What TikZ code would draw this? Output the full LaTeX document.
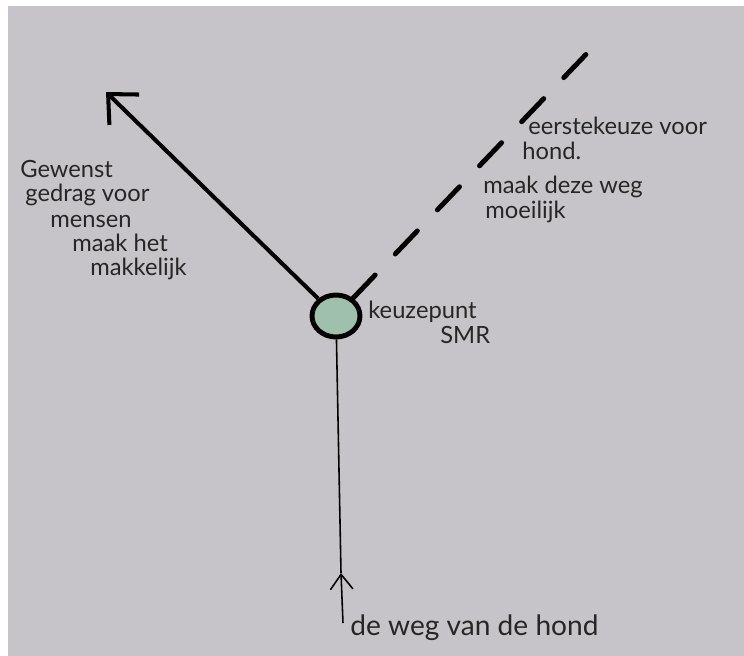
\documentclass[tikz,border=0pt]{standalone}
\usepackage{fontspec}
\setmainfont{Lato}
\usetikzlibrary{positioning,arrows.meta,shapes.geometric}
\definecolor{paper}{RGB}{198,196,200}
\definecolor{keuzegroen}{RGB}{158,192,172}

\begin{document}
\begin{tikzpicture}[
    x=0.02cm, y=-0.02cm,
    hand/.style={%
      font=\fontsize{13.5}{16}\selectfont,
      text=black!85,
      inner sep=0pt,
      anchor=base west,
    },
    punt/.style={%
      draw,
      ellipse,
      line width=2.8pt,
      fill=keuzegroen,
      minimum width=0.96cm,
      minimum height=0.84cm,
      inner sep=0pt,
    },
  ]

    \useasboundingbox (0,0) rectangle (744,656);
    \fill [paper] (8,6) rectangle (744,656);

    \node [punt] (keuze) at (336,316) {};
    \coordinate (mensen) at (106,92);
    \coordinate (hondeind) at (594,46);
    \coordinate (start) at (343,623);
    \coordinate (pijl) at (341,573);

    \draw [line width=2.3pt, -{Straight Barb[length=0.45cm,width=0.85cm]}] (keuze) -- (mensen);
    \draw [line width=2.8pt, line cap=round, dash pattern=on 0.64cm off 0.58cm] (keuze) -- (hondeind);
    \draw [line width=0.9pt, -{Straight Barb[length=0.3cm,width=0.45cm]}] (start) -- (pijl);
    \draw [line width=0.9pt] (pijl) -- (keuze);

    \node [hand] (gewenst) at (20,177) {Gewenst};
    \node [hand] (gedrag) at (25,201) {gedrag voor};
    \node [hand] (mensentekst) at (50,227) {mensen};
    \node [hand] (maakhet) at (72,251) {maak het};
    \node [hand] (makkelijk) at (90,275) {makkelijk};

    \node [hand] (eerste) at (528,134) {eerstekeuze voor};
    \node [hand] (hond) at (522,159) {hond.};
    \node [hand] (maakdeze) at (483,193) {maak deze weg};
    \node [hand] (moeilijk) at (485,218) {moeilijk};

    \node [hand] (keuzepunt) at (368,318) {keuzepunt};
    \node [hand] (smr) at (440,343) {SMR};

    \node [hand, font=\fontsize{16}{19}\selectfont] (wegtekst) at (350,635) {de weg van de hond};

\end{tikzpicture}
\end{document}
